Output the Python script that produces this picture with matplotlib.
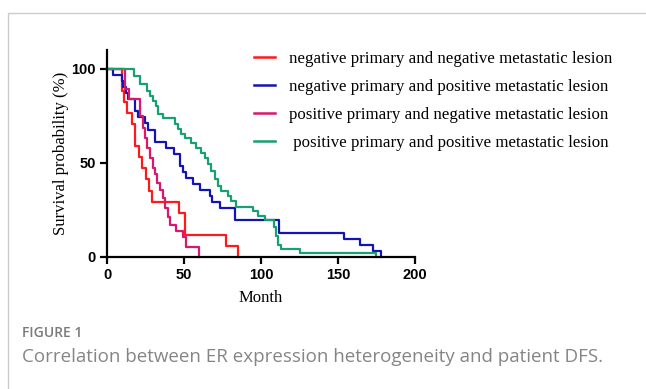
import matplotlib
matplotlib.use("Agg")
import matplotlib.pyplot as plt
from matplotlib.lines import Line2D

# Kaplan-Meier step data (month, survival %)
t_nn = [0, 10, 11, 13, 16, 18.5, 21, 23, 25.5, 27.5, 29, 47, 50.5, 77.5, 85]
s_nn = [100, 88.2, 82.4, 76.5, 70.6, 58.8, 52.9, 47.1, 41.2, 35.3, 29.4, 23.5, 11.8, 5.9, 0]

t_np = [0, 4, 10, 10.6, 12.1, 13.4, 18.1, 20.3, 24.6, 26.3, 31, 38.6, 43.4, 47.2,
        49.4, 51.1, 55.9, 60.2, 67.1, 68.4, 73.1, 82.8, 111.5, 154, 164, 172.8, 178]
s_np = [100, 96.8, 93.5, 90.3, 87.1, 83.9, 77.4, 74.2, 71, 67.7, 61.3, 58.1, 54.8, 48.4,
        45.2, 41.9, 38.7, 35.5, 32.3, 29, 25.8, 19.4, 12.9, 9.7, 6.5, 3.2, 0]

t_pn = [0, 12, 14, 21.4, 23.1, 24.6, 25.7, 27.8, 29.6, 31.1, 32.6, 34.7, 36.5, 37.5,
        39.7, 40.8, 45.1, 49.4, 51.1, 59.5]
s_pn = [100, 89.5, 84.2, 75, 68.4, 63.2, 57.9, 52.6, 47.4, 43.9, 39.4, 35.8, 31.6, 26.3,
        21.1, 17, 13.9, 10.5, 5.3, 0]

t_pp = [0, 17.7, 21.4, 25.7, 27.8, 30, 32.1, 33.2, 36.5, 44, 46.2, 48.3, 50.5, 54.8,
        58.1, 61.3, 63.4, 65.6, 67.8, 69.9, 72, 74.2, 78.5, 80.7, 83.9, 94.7, 97.9,
        102.3, 108.7, 109.8, 110.9, 113, 125.4, 174.5]
s_pp = [100, 96.3, 91.8, 88.2, 85.5, 82.9, 80.2, 75.8, 74, 70.6, 67.9, 65.5, 63.5, 60.8,
        58.1, 55.5, 52.8, 49.2, 45.6, 41.2, 37.6, 34.9, 32.2, 29.6, 26.6, 24.2, 21.9,
        19.8, 16.2, 10.9, 6.4, 4.3, 2.3, 0]

labels = ["negative primary and negative metastatic lesion",
          "negative primary and positive metastatic lesion",
          "positive primary and negative metastatic lesion",
          " positive primary and positive metastatic lesion"]
colors = ["#ff1a1a", "#1414b4", "#d8186c", "#18a070"]

x_ticks = [0, 50, 100, 150, 200]
y_ticks = [0, 50, 100]

fig = plt.figure(figsize=(6.46, 3.89), dpi=100)
ax = fig.add_axes([107 / 646, 1 - 257 / 389, (415 - 107) / 646, (257 - 50) / 389])

series = [(t_nn, s_nn), (t_np, s_np), (t_pn, s_pn), (t_pp, s_pp)]
for (t, s), c in zip(series, colors):
    ax.step(t, s, where="post", color=c, lw=1.6, clip_on=False)

ax.set_xlim(0, 200)
ax.set_ylim(0, 110)
ax.set_xticks(x_ticks)
ax.set_yticks(y_ticks)
for sp in ["top", "right"]:
    ax.spines[sp].set_visible(False)
for sp in ["left", "bottom"]:
    ax.spines[sp].set_linewidth(1.6)
ax.tick_params(direction="out", length=5, width=1.6, pad=3)
for lab in ax.get_xticklabels() + ax.get_yticklabels():
    lab.set_fontfamily("Liberation Sans")
    lab.set_fontweight("bold")
    lab.set_fontsize(10.5)

ax.set_xlabel("Month", family="Liberation Serif", fontsize=12, labelpad=6)
ax.set_ylabel("Survival probability (%)", family="Liberation Serif", fontsize=12, labelpad=2)

handles = [Line2D([], [], color=c, lw=1.8) for c in colors]
fig.legend(handles, labels, loc="upper left", bbox_to_anchor=(254 / 646, 1 - 51 / 389),
           frameon=False, borderpad=0, borderaxespad=0, handlelength=1.25,
           handletextpad=0.8, labelspacing=0.7,
           prop={"family": "Liberation Serif", "size": 12.2})

# page frame and caption
fig.add_artist(Line2D([8 / 646, 8 / 646, 1], [0, 1 - 13 / 389, 1 - 13 / 389],
                      transform=fig.transFigure, color="#cccccc", lw=1))
fig.text(22 / 646, 1 - 333 / 389, "FIGURE 1", family="Open Sans", fontsize=10,
         fontweight="semibold", color="#7a7a7a", va="center")
fig.text(22 / 646, 1 - 357 / 389,
         "Correlation between ER expression heterogeneity and patient DFS.",
         family="Open Sans", fontsize=13.5, color="#858585", va="center")

fig.savefig("out.png", dpi=100)
